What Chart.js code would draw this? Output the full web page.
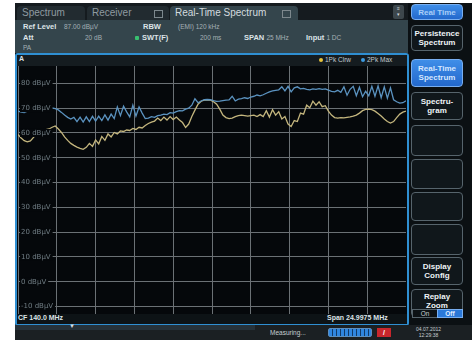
<!DOCTYPE html>
<html>
<head>
<meta charset="utf-8">
<script src="https://cdn.jsdelivr.net/npm/chart.js@4.4.0/dist/chart.umd.min.js"></script>
<style>
body{margin:0;width:472px;height:340px;background:#fff;position:relative;overflow:hidden;font-family:"Liberation Sans",Arial,sans-serif}
.a{position:absolute}
#panel{left:15px;top:3px;width:457px;height:337px;background:#0b1013}
.tab{top:6px;height:14px;background:#222b30;color:#8f9aa0;font-size:10px;line-height:14px;border-radius:4px 4px 0 0;padding-left:5px;box-sizing:border-box}
.tab.on{background:#34454c;color:#d3dbdf}
.ico{width:7px;height:6px;border:1px solid #7d888d;top:4px}
#info{left:15px;top:20px;width:393px;height:33px;background:#34454c}
.lb{font-size:7.5px;font-weight:bold;color:#dce3e7;white-space:nowrap}
.vl{font-size:6.5px;color:#a4b0b5;white-space:nowrap}
#win{left:15px;top:53px;width:394px;height:273px;border:2px solid #2f8fd2;border-radius:3px;box-sizing:border-box;background:#05080b}
#hdr{left:17px;top:55px;width:390px;height:11px;background:#151c20}
#cfbar{left:17px;top:314px;width:390px;height:10px;background:#0d1316}
.btn{position:absolute;left:411px;width:52px;border:1px solid #56646c;border-radius:4px;background:#10171b;color:#eef3f6;font-size:8px;font-weight:bold;text-align:center;display:flex;align-items:center;justify-content:center;line-height:9px;box-sizing:border-box}
.btn.blue{background:linear-gradient(#3f8ee8,#2368cc);border-color:#78aef0;color:#d5e7ff}
#status{left:15px;top:325px;width:457px;height:15px;background:#1b2023}
</style>
</head>
<body>
<div id="panel" class="a"></div>

<!-- tabs -->
<div class="a" style="left:15px;top:3px;width:393px;height:17px;background:#151b1f"></div>
<div class="a tab" style="left:17px;width:68px">Spectrum</div>
<div class="a tab" style="left:87px;width:82px">Receiver<div class="a ico" style="left:67px"></div></div>
<div class="a tab on" style="left:170px;width:128px">Real-Time Spectrum<div class="a ico" style="left:112px"></div></div>
<div class="a" style="left:393px;top:5px;width:11px;height:14px;background:#3d474c;border-radius:2px;color:#cfd6da;font-size:5px;text-align:center;line-height:6px">&#8801;<br>&#9662;</div>

<!-- info block -->
<div id="info" class="a"></div>
<div class="a lb" style="left:23px;top:22px">Ref Level</div>
<div class="a vl" style="left:64px;top:23px">87.00 dBµV</div>
<div class="a lb" style="left:143px;top:22px">RBW</div>
<div class="a vl" style="left:178px;top:23px">(EMI) 120 kHz</div>
<div class="a lb" style="left:23px;top:33px">Att</div>
<div class="a vl" style="left:85px;top:34px">20 dB</div>
<div class="a" style="left:135px;top:36px;width:4px;height:4px;background:#38c070;border-radius:1px"></div>
<div class="a lb" style="left:142px;top:33px">SWT(F)</div>
<div class="a vl" style="left:200px;top:34px">200 ms</div>
<div class="a lb" style="left:244px;top:33px">SPAN <span style="font-weight:normal;color:#a4b0b5;font-size:6.5px">25 MHz</span></div>
<div class="a lb" style="left:306px;top:33px">Input <span style="font-weight:normal;color:#a4b0b5;font-size:6.5px">1 DC</span></div>
<div class="a vl" style="left:23px;top:44px">PA</div>

<!-- trace window -->
<div id="win" class="a"></div>
<div id="hdr" class="a"></div>
<div class="a lb" style="left:19px;top:55px;font-size:7px">A</div>
<div class="a" style="left:319px;top:58px;width:4px;height:4px;border-radius:2px;background:#e8c43a"></div>
<div class="a vl" style="left:325px;top:56px;color:#c2cbcf">1Pk Clrw</div>
<div class="a" style="left:361px;top:58px;width:4px;height:4px;border-radius:2px;background:#3d9be0"></div>
<div class="a vl" style="left:367px;top:56px;color:#c2cbcf">2Pk Max</div>
<div id="cfbar" class="a"></div>
<div class="a lb" style="left:18px;top:314px;font-size:7px">CF 140.0 MHz</div>
<div class="a lb" style="left:327px;top:314px;font-size:7px">Span 24.9975 MHz</div>

<canvas id="GraficoEspectro" class="a" style="left:18px;top:66px" width="388" height="248"></canvas>

<!-- softkeys -->
<div class="btn blue" style="top:4px;height:16px;font-weight:bold;color:#a9cdf7">Real Time</div>
<div class="btn" style="top:25px;height:26px">Persistence<br>Spectrum</div>
<div class="btn blue" style="top:59px;height:28px">Real-Time<br>Spectrum</div>
<div class="btn" style="top:92px;height:28px">Spectru-<br>gram</div>
<div class="btn" style="top:125px;height:31px"></div>
<div class="btn" style="top:159px;height:30px"></div>
<div class="btn" style="top:192px;height:29px"></div>
<div class="btn" style="top:224px;height:31px"></div>
<div class="btn" style="top:257px;height:28px">Display<br>Config</div>
<div class="btn" style="top:289px;height:28px;align-items:flex-start;padding-top:2px">Replay<br>Zoom</div>
<div class="a" style="left:412px;top:309px;width:24px;height:7px;background:#0c1114;border:1px solid #56646c;color:#c9d2d6;font-size:6.5px;line-height:7px;text-align:center">On</div>
<div class="a" style="left:437px;top:309px;width:24px;height:7px;background:#2a78d8;color:#e0eeff;font-size:6.5px;line-height:7px;text-align:center;font-weight:bold;border:1px solid #78aef0">Off</div>

<!-- status bar -->
<div id="status" class="a"></div>
<div class="a" style="left:15px;top:325px;width:240px;height:5px;background:#26323a"></div>
<div class="a" style="left:69px;top:323px;color:#d8dee2;font-size:6px">&#9660;</div>
<div class="a vl" style="left:270px;top:329px;color:#c6ced2">Measuring...</div>
<div class="a" style="left:328px;top:328px;width:44px;height:9px;border:1px solid #5b8fc0;box-sizing:border-box;border-radius:2px;background:repeating-linear-gradient(90deg,#2f86e0 0 3px,#123a66 3px 4px)"></div>
<div class="a" style="left:377px;top:328px;width:14px;height:9px;background:#c8262c;color:#fff;font-size:7px;line-height:9px;text-align:center;font-weight:bold">/</div>
<div class="a" style="left:416px;top:327px;color:#c6ced2;font-size:5px;line-height:5.5px;text-align:center">04.07.2012<br>12:29:38</div>

<script>
// barrido: 127.5 .. 152.5 MHz (CF 140 MHz, span 25 MHz)
var freqMHz = [
  127.5,127.7,127.9,128.1,128.3,128.5,128.7,128.9,129.1,129.3,
  129.5,129.7,129.9,130.1,130.3,130.5,130.7,130.9,131.1,131.3,
  131.5,131.7,131.9,132.1,132.3,132.5,132.7,132.9,133.1,133.3,
  133.5,133.7,133.9,134.1,134.3,134.5,134.7,134.9,135.1,135.3,
  135.5,135.7,135.9,136.1,136.3,136.5,136.7,136.9,137.1,137.3,
  137.5,137.7,137.9,138.1,138.3,138.5,138.7,138.9,139.1,139.3,
  139.5,139.7,139.9,140.1,140.3,140.5,140.7,140.9,141.1,141.3,
  141.5,141.7,141.9,142.1,142.3,142.5,142.7,142.9,143.1,143.3,
  143.5,143.7,143.9,144.1,144.3,144.5,144.7,144.9,145.1,145.3,
  145.5,145.7,145.9,146.1,146.3,146.5,146.7,146.9,147.1,147.3,
  147.5,147.7,147.9,148.1,148.3,148.5,148.7,148.9,149.1,149.3,
  149.5,149.7,149.9,150.1,150.3,150.5,150.7,150.9,151.1,151.3,
  151.5,151.7,151.9,152.1,152.3,152.5
];
// traza 2Pk Max (azul), dBµV
var maxDb = [
  68.8,68.4,68.2,68.8,69.6,69.8,69.6,69.9,69.7,70.0,
  69.8,70.1,69.8,69.3,68.3,67.2,66.3,65.6,66.3,64.6,
  66.4,64.4,66.5,64.6,66.7,64.8,66.8,65.0,67.3,65.2,
  67.6,65.8,70.5,67.0,70.8,68.5,66.5,71.2,66.8,70.5,
  68.0,65.8,66.0,66.6,66.3,67.0,67.2,67.6,67.4,68.2,
  68.0,68.6,69.0,68.9,69.6,70.0,71.2,73.8,72.2,72.9,
  73.4,73.5,73.4,73.0,72.7,72.8,73.0,73.2,73.3,74.8,
  72.9,73.6,73.8,74.2,73.9,74.5,74.8,75.3,75.0,75.4,
  76.0,76.6,77.0,77.2,77.4,78.6,77.0,78.8,76.6,78.2,
  78.6,77.8,78.0,77.6,77.4,77.8,77.6,77.9,77.6,77.8,
  77.3,76.8,76.6,77.2,76.4,78.6,75.2,77.6,78.8,75.0,
  78.4,74.6,76.8,75.0,78.8,74.8,79.0,74.2,78.6,74.0,
  78.2,73.4,72.6,72.0,72.2,73.0
];
// traza 1Pk Clrw (amarilla), dBµV
var clrwDb = [
  59.4,58.0,56.9,56.4,56.8,58.2,59.6,60.5,60.8,61.3,
  61.6,62.3,62.8,61.6,60.2,58.4,57.0,55.8,55.0,54.3,
  53.8,53.4,54.2,55.8,54.6,57.2,55.6,58.6,57.0,59.6,
  58.4,60.2,59.6,60.8,60.6,61.2,61.0,61.8,61.4,62.3,
  62.0,63.0,63.8,64.4,64.8,66.0,65.0,66.4,65.2,66.6,
  65.4,66.4,65.2,64.2,62.2,63.6,66.6,69.2,71.6,72.8,
  73.2,73.3,73.2,72.6,71.6,69.6,67.2,66.2,65.8,66.0,
  66.6,67.0,67.2,67.0,66.8,67.0,67.2,66.6,67.4,66.6,
  69.0,66.4,69.4,67.2,68.6,65.6,66.6,63.6,62.6,65.0,
  64.6,68.0,67.6,71.2,70.2,72.8,71.2,72.6,70.6,71.0,
  68.8,67.2,66.2,66.0,66.2,66.1,66.3,66.5,66.8,67.2,
  68.0,69.0,69.5,69.6,69.4,68.8,67.8,66.8,65.6,64.6,
  64.0,64.6,66.2,67.6,68.4,68.8
];
var yTicks = [-10, 0, 10, 20, 30, 40, 50, 60, 70, 80];
var xGrid = [127.5, 130, 132.5, 135, 137.5, 140, 142.5, 145, 147.5, 150, 152.5];

// etiquetas dBµV dentro del area, como en el analizador
var etiquetasY = {
  id: 'etiquetasY',
  afterDraw: function (chart) {
    var c = chart.ctx, sy = chart.scales.y, left = chart.chartArea.left;
    c.save();
    c.font = '7px "DejaVu Sans"';
    c.textBaseline = 'middle';
    yTicks.forEach(function (v) {
      var y = sy.getPixelForValue(v);
      var txt = v + ' dBµV';
      var w = c.measureText(txt).width;
      c.fillStyle = '#05080b';
      c.fillRect(left + 2, y - 4, w + 3, 8);
      c.fillStyle = '#707d84';
      c.fillText(txt, left + 3, y);
    });
    c.restore();
  }
};

var ctx1 = document.getElementById('GraficoEspectro').getContext('2d');
var GraficoEspectro = new Chart(ctx1, {
  type: 'line',
  data: {
    datasets: [{
      label: '2Pk Max',
      data: freqMHz.map(function (f, i) { return { x: f, y: maxDb[i] }; }),
      borderColor: '#5b93c0',
      borderWidth: 1.3,
      pointRadius: 0
    }, {
      label: '1Pk Clrw',
      data: freqMHz.map(function (f, i) { return { x: f, y: clrwDb[i] }; }),
      borderColor: '#c4b67e',
      borderWidth: 1.3,
      pointRadius: 0
    }]
  },
  options: {
    responsive: false,
    animation: false,
    layout: { padding: 0 },
    plugins: { legend: { display: false }, tooltip: { enabled: false } },
    scales: {
      x: {
        type: 'linear', min: 127.5, max: 152.5,
        afterBuildTicks: function (a) { a.ticks = xGrid.map(function (v) { return { value: v }; }); },
        ticks: { display: false },
        grid: { color: '#6b7175', lineWidth: 1, drawTicks: false },
        border: { display: false }
      },
      y: {
        min: -13, max: 87,
        afterBuildTicks: function (a) { a.ticks = yTicks.map(function (v) { return { value: v }; }); },
        ticks: { display: false },
        grid: { color: '#6b7175', lineWidth: 1, drawTicks: false },
        border: { display: false }
      }
    }
  },
  plugins: [etiquetasY]
});
</script>
</body>
</html>
